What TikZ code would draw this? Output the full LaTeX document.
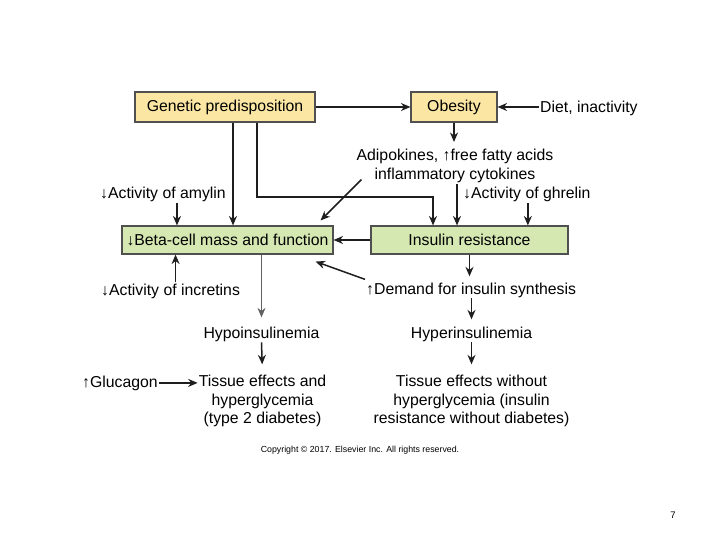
\documentclass[tikz,border=0pt]{standalone}
\usepackage{fontspec}
\setmainfont{Liberation Sans}
\usetikzlibrary{arrows.meta,positioning}
\definecolor{boxyellow}{HTML}{FBE7A3}
\definecolor{boxgreen}{HTML}{D5E8B2}
\definecolor{boxline}{HTML}{505050}
\definecolor{inkline}{HTML}{1E1E1E}
\tikzset{
  genbox/.style={draw=boxline,fill=boxyellow,line width=1.1pt,minimum height=30pt,inner sep=0pt},
  cellbox/.style={draw=boxline,fill=boxgreen,line width=1.1pt,minimum height=28pt,inner sep=0pt},
  txt/.style={inner sep=1pt},
  flow/.style={-{Stealth[length=9.5pt,width=8pt]},line width=1.5pt,inkline},
  thinflow/.style={flow,line width=1pt,draw=inkline!70}
}
\begin{document}
\begin{tikzpicture}[x=1pt,y=-1pt,font=\fontsize{15.8}{18.5}\selectfont]
  \useasboundingbox[fill=white] (0,0) rectangle (720,540);
  % boxes
  \node[genbox,minimum width=180pt] (gen) at (225,107) {Genetic predisposition};
  \node[genbox,minimum width=86pt] (obes) at (454,107) {Obesity};
  \node[cellbox,minimum width=211pt] (beta) at (227.5,240) {↓Beta-cell mass and function};
  \node[cellbox,minimum width=197pt] (ir) at (469.5,240) {Insulin resistance};
  % free texts
  \node[txt,anchor=base west] (diet) at (539,113) {Diet, inactivity};
  \node[txt,align=center] (adipo) at (455,165.8) {Adipokines, ↑free fatty acids\\inflammatory cytokines};
  \node[txt,anchor=base west] (amylin) at (99,199) {↓Activity of amylin};
  \node[txt,anchor=base west] (ghrelin) at (462,199) {↓Activity of ghrelin};
  \node[txt,anchor=base west] (incretins) at (100,295) {↓Activity of incretins};
  \node[txt,anchor=base west] (demand) at (365,294) {↑Demand for insulin synthesis};
  \node[txt,anchor=base] (hypo) at (261.5,338) {Hypoinsulinemia};
  \node[txt,anchor=base] (hyper) at (471.5,338) {Hyperinsulinemia};
  \node[txt,align=center] (tisdiab) at (262.5,401.4) {Tissue effects and\\hyperglycemia\\(type 2 diabetes)};
  \node[txt,align=center] (tisnodiab) at (471.5,401.4) {Tissue effects without\\hyperglycemia (insulin\\resistance without diabetes)};
  \node[txt,anchor=base west] (glucagon) at (81,387) {↑Glucagon};
  \node[txt,font=\fontsize{8.8}{10}\selectfont] (copy) at (360,450) {Copyright © 2017. Elsevier Inc. All rights reserved.};
  \node[txt,font=\fontsize{9.5}{11}\selectfont] (page) at (673,515) {7};
  % connectors
  \draw[flow] (gen) -- (obes);
  \draw[flow] (obes.east -| diet.west) -- (obes.east);
  \draw[flow,shorten >=6pt] (obes.south) -- (obes.south |- adipo.north);
  \draw[flow] ([xshift=8pt]gen.south) -- ([xshift=8pt]gen.south |- beta.north);
  \coordinate (bend) at (433,197);
  \draw[flow] ([xshift=32pt]gen.south) |- (bend) -- (bend |- ir.north);
  \draw[flow] ([shift={(6pt,4pt)}]adipo.south west) -- ([shift={(-13pt,5pt)}]beta.north east);
  \draw[flow] ([xshift=2pt]adipo.south) -- ([xshift=2pt]adipo.south |- ir.north);
  \draw[flow] ([xshift=1pt]ghrelin.south) -- ([xshift=1pt]ghrelin.south |- ir.north);
  \draw[flow] ([xshift=14pt]amylin.south) -- ([xshift=14pt]amylin.south |- beta.north);
  \draw[flow] (ir) -- (beta);
  \draw[flow] ([xshift=5pt]incretins.north) -- ([xshift=5pt]incretins.north |- beta.south);
  \draw[flow] ([yshift=2pt]demand.north west) -- ([shift={(-18pt,-7pt)}]beta.south east);
  \draw[flow,shorten >=5pt] (ir.south) -- (ir.south |- demand.north);
  \draw[flow,shorten >=6pt] (demand.south -| hyper.north) -- (hyper.north);
  \draw[thinflow,shorten >=8pt] (beta.south -| hypo.north) -- (hypo.north);
  \draw[flow,shorten >=10pt] (hypo.south) -- (tisdiab.north);
  \draw[flow,shorten >=10pt] (hyper.south) -- (tisnodiab.north);
  \draw[flow] (glucagon.east) -- (glucagon.east -| tisdiab.west);
\end{tikzpicture}
\end{document}
